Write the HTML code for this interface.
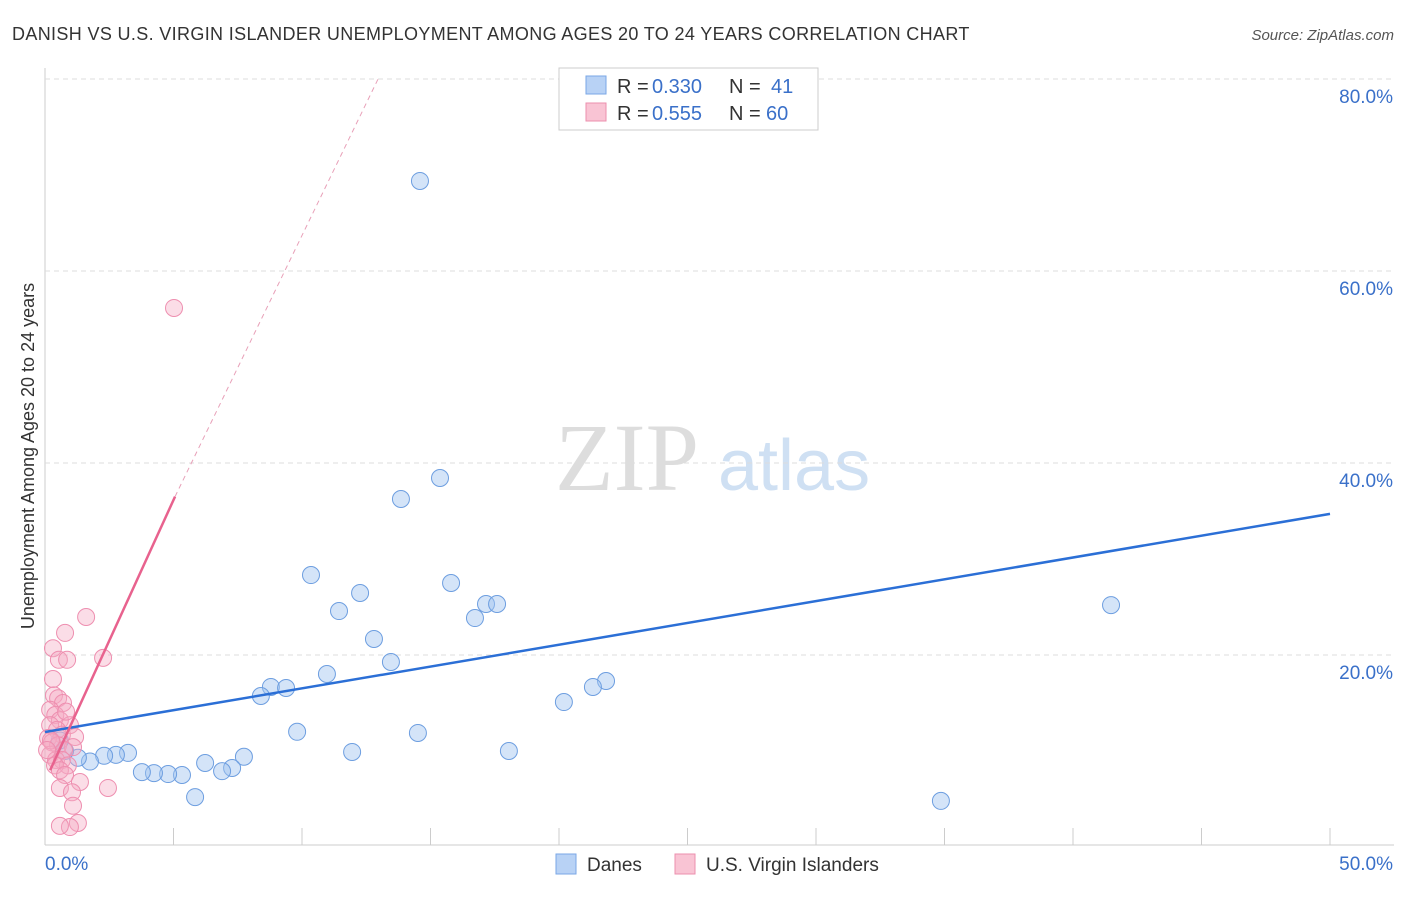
<!DOCTYPE html>
<html><head><meta charset="utf-8"><style>
body{margin:0;background:#fff;font-family:"Liberation Sans",sans-serif}
svg text{font-family:"Liberation Sans",sans-serif}
</style></head><body>
<svg width="1406" height="892" id="c">
<text x="12" y="40" font-size="18" fill="#333" letter-spacing="0.35">DANISH VS U.S. VIRGIN ISLANDER UNEMPLOYMENT AMONG AGES 20 TO 24 YEARS CORRELATION CHART</text>
<text x="1394" y="40" font-size="15" fill="#555" text-anchor="end" font-style="italic">Source: ZipAtlas.com</text>
<text x="555" y="490" font-size="96" fill="#ddd" style="font-family:'Liberation Serif',serif">ZIP</text>
<text x="718" y="490" font-size="72" fill="#cfe0f3">atlas</text>
<text transform="translate(34,456) rotate(-90)" font-size="18" fill="#333" text-anchor="middle">Unemployment Among Ages 20 to 24 years</text>
<g id="grid"></g><g id="marks"></g>
<g>
<rect x="559" y="68" width="259" height="62" fill="#fff" stroke="#ccc"/>
<rect x="586" y="76" width="20" height="18" fill="#b8d2f5" stroke="#7aa7e6"/>
<rect x="586" y="103" width="20" height="18" fill="#f9c4d4" stroke="#ec8fae"/>
<text x="617" y="93" font-size="20" fill="#333">R =</text>
<text x="652" y="93" font-size="20" fill="#3a70c9">0.330</text>
<text x="729" y="93" font-size="20" fill="#333">N =</text>
<text x="771" y="93" font-size="20" fill="#3a70c9">41</text>
<text x="617" y="120" font-size="20" fill="#333">R =</text>
<text x="652" y="120" font-size="20" fill="#3a70c9">0.555</text>
<text x="729" y="120" font-size="20" fill="#333">N =</text>
<text x="766" y="120" font-size="20" fill="#3a70c9">60</text>
</g>
<g>
<rect x="556" y="854" width="20" height="20" fill="#b8d2f5" stroke="#7aa7e6"/>
<text x="587" y="871" font-size="19" fill="#333">Danes</text>
<rect x="675" y="854" width="20" height="20" fill="#f9c4d4" stroke="#ec8fae"/>
<text x="706" y="871" font-size="19" fill="#333">U.S. Virgin Islanders</text>
</g>
</svg>
<script>
const xTicks=[0,5,10,15,20,25,30,35,40,45,50];
const yTicks=[20,40,60,80];
const blueX=[14.59,15.37,13.85,10.35,15.80,12.26,11.44,17.16,17.59,16.73,12.80,13.46,10.97,8.79,9.38,8.40,21.83,21.32,20.19,9.81,14.51,11.95,18.05,7.74,7.28,6.89,6.23,5.33,4.79,4.24,3.77,5.84,3.23,2.76,2.30,1.75,1.28,0.78,41.48,34.86,0.58];
const blueY=[69.38,38.44,36.25,28.33,27.5,26.46,24.58,25.31,25.31,23.85,21.67,19.27,18.02,16.67,16.56,15.73,17.29,16.67,15.1,12.0,11.88,9.9,10.0,9.4,8.23,7.9,8.75,7.5,7.6,7.7,7.8,5.2,9.8,9.6,9.5,8.9,9.3,10.0,25.2,4.8,11.1];
const pinkX=[5.02,1.6,0.78,0.31,0.54,0.86,2.26,0.31,0.35,0.51,0.7,0.2,0.4,0.58,0.2,0.97,0.47,0.66,0.12,1.17,0.27,0.51,1.09,0.74,0.2,0.43,0.66,0.89,0.39,0.58,0.78,1.36,2.45,0.58,1.05,1.09,1.28,0.97,0.58,0.23,0.08,0.82];
const pinkY=[56.15,23.96,22.3,20.7,19.5,19.5,19.7,17.5,15.8,15.5,15.0,14.3,13.75,13.2,12.7,12.7,12.2,11.7,11.35,11.46,10.9,10.6,10.4,10.1,9.6,9.06,9.06,8.5,8.5,8.0,7.5,6.77,6.15,6.15,5.7,4.3,2.5,2.08,2.2,11.1,10.1,14.1];
const blueTrend=[[0,11.98],[50,34.7]];
const pinkTrend=[[0.2,8.0],[5.06,36.5]];
const pinkDash=[[5.06,36.5],[12.96,80]];
const X=v=>45+v*25.7, Y=v=>847-v*9.6;
const NS='http://www.w3.org/2000/svg';
function mk(t,a,p){const e=document.createElementNS(NS,t);for(const k in a)e.setAttribute(k,a[k]);p.appendChild(e);return e;}
const g=document.getElementById('grid'), m=document.getElementById('marks');
let ax=mk('line',{x1:45,y1:68,x2:45,y2:845,stroke:'#ccc'},g);


let bx=mk('line',{x1:45,y1:845,x2:1394,y2:845,stroke:'#ccc'},g);


yTicks.forEach(v=>{
 let l=mk('line',{x1:45,x2:1394,y1:Y(v),y2:Y(v),stroke:'#ddd','stroke-dasharray':'5,4'},g);
 
 
 let t=mk('text',{x:1393,y:Y(v)+24,'font-size':19,fill:'#3a70c9','text-anchor':'end'},g);t.textContent=v.toFixed(1)+'%';
 
 
});
xTicks.forEach(v=>{
 let l=mk('line',{x1:X(v),x2:X(v),y1:828,y2:845,stroke:'#ccc'},g);
 
 
});
[[0,'start',45],[50,'end',1393]].forEach(([v,a,x])=>{let t=mk('text',{x:x,y:870,'font-size':19,fill:'#3a70c9','text-anchor':a},g);t.textContent=v.toFixed(1)+'%';
 
 });
blueX.forEach((x,i)=>{let c=mk('circle',{cx:X(x),cy:Y(blueY[i]),r:8.5,fill:'rgba(160,196,240,0.45)',stroke:'#6d9ee0','stroke-width':1},m);
 
 });
pinkX.forEach((x,i)=>{let c=mk('circle',{cx:X(x),cy:Y(pinkY[i]),r:8.5,fill:'rgba(246,170,195,0.4)',stroke:'#ee8fb0','stroke-width':1},m);
 
 });
let bl=mk('line',{x1:X(blueTrend[0][0]),y1:Y(blueTrend[0][1]),x2:X(blueTrend[1][0]),y2:Y(blueTrend[1][1]),stroke:'#2b6fd6','stroke-width':2.5},m);


let pl=mk('line',{x1:X(pinkTrend[0][0]),y1:Y(pinkTrend[0][1]),x2:X(pinkTrend[1][0]),y2:Y(pinkTrend[1][1]),stroke:'#e8628e','stroke-width':2.5},m);


let pd=mk('line',{x1:X(pinkDash[0][0]),y1:Y(pinkDash[0][1]),x2:X(pinkDash[1][0]),y2:Y(pinkDash[1][1]),stroke:'#e8a0b8','stroke-width':1,'stroke-dasharray':'5,4'},m);


</script>
</body></html>
